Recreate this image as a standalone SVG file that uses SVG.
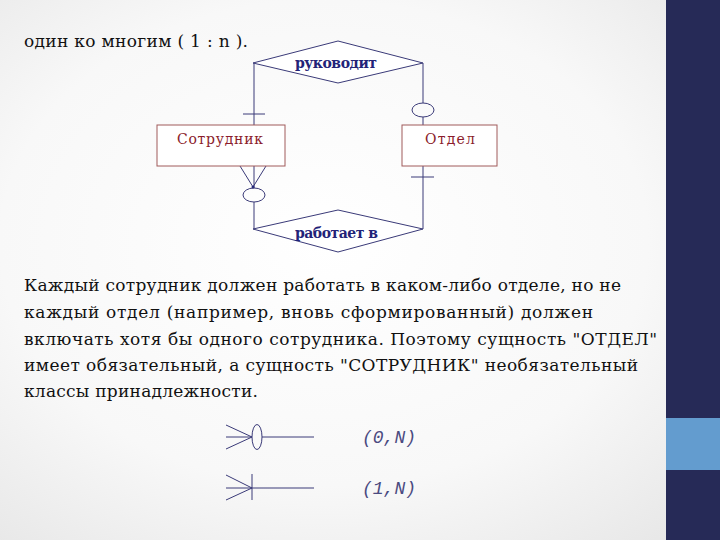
<svg xmlns="http://www.w3.org/2000/svg" width="720" height="540" viewBox="0 0 720 540">
<defs>
<radialGradient id="bg" cx="0.45" cy="0.45" r="0.75">
<stop offset="0" stop-color="#ffffff"/>
<stop offset="0.6" stop-color="#f8f8f8"/>
<stop offset="1" stop-color="#e6e6e6"/>
</radialGradient>
<style>
.body{font-family:'DejaVu Serif','Liberation Serif',serif;font-size:17px;fill:#111}
.rel{font-family:'DejaVu Serif','Liberation Serif',serif;font-size:14px;font-weight:bold;fill:#232378}
.ent{font-family:'DejaVu Serif','Liberation Serif',serif;font-size:14px;fill:#8b1c2c}
.box{fill:#ffffff;stroke:#a05a5a;stroke-width:1}
.ln{stroke:#3a3a78;stroke-width:1;fill:none}
.dia{stroke:#3a3a78;stroke-width:1;fill:#ffffff}
.leg{font-family:'Liberation Mono','DejaVu Sans Mono',monospace;font-size:18px;font-style:italic;fill:#4a4a80}
</style>
</defs>
<rect width="720" height="540" fill="url(#bg)"/>
<rect x="666" y="0" width="54" height="540" fill="#262a57"/>
<rect x="666" y="418" width="54" height="52" fill="#639ccf"/>

<text class="body" x="24" y="47" textLength="224">один ко многим ( 1 : n ).</text>

<g id="connectors">
<line class="ln" x1="254" y1="63" x2="254" y2="125"/>
<line class="ln" x1="243" y1="114" x2="265" y2="114"/>
<line class="ln" x1="423" y1="63" x2="423" y2="103"/>
<ellipse class="ln" cx="423" cy="110" rx="11" ry="7"/>
<line class="ln" x1="423" y1="117" x2="423" y2="125"/>
<line class="ln" x1="423" y1="166" x2="423" y2="229"/>
<line class="ln" x1="411" y1="177" x2="434" y2="177"/>
<line class="ln" x1="240" y1="166" x2="253" y2="187"/>
<line class="ln" x1="266" y1="166" x2="253" y2="187"/>
<line class="ln" x1="254" y1="166" x2="254" y2="188"/>
<circle cx="253" cy="187" r="1.5" fill="#23237a"/>
<ellipse class="ln" cx="254" cy="195" rx="11" ry="7"/>
<line class="ln" x1="254" y1="202" x2="254" y2="229"/>
</g>

<g id="rel-rukovodit">
<polygon class="dia" points="253,63 338,41 423,63 338,83"/>
<text class="rel" x="295" y="68" textLength="82">руководит</text>
</g>
<g id="rel-rabotaet">
<polygon class="dia" points="253,229 338,210 423,229 338,252"/>
<text class="rel" x="295" y="238" textLength="83">работает в</text>
</g>
<g id="ent-sotrudnik">
<rect class="box" x="157" y="125" width="128" height="41"/>
<text class="ent" x="177" y="144" textLength="86">Сотрудник</text>
</g>
<g id="ent-otdel">
<rect class="box" x="402" y="125" width="95" height="41"/>
<text class="ent" x="425" y="144" textLength="50">Отдел</text>
</g>

<text class="body" x="24" y="291" textLength="597">Каждый сотрудник должен работать в каком-либо отделе, но не</text>
<text class="body" x="24" y="318" textLength="569">каждый отдел (например, вновь сформированный) должен</text>
<text class="body" x="24" y="345" textLength="633">включать хотя бы одного сотрудника. Поэтому сущность "ОТДЕЛ"</text>
<text class="body" x="24" y="371" textLength="614">имеет обязательный, а сущность "СОТРУДНИК" необязательный</text>
<text class="body" x="24" y="397" textLength="234">классы принадлежности.</text>

<g id="legend-0n">
<line class="ln" x1="226" y1="437" x2="252" y2="437"/>
<line class="ln" x1="226" y1="425" x2="252" y2="437"/>
<line class="ln" x1="226" y1="449" x2="252" y2="437"/>
<ellipse class="ln" cx="257" cy="437" rx="5" ry="12.5"/>
<line class="ln" x1="262" y1="437" x2="314" y2="437"/>
<text class="leg" x="362" y="443">(0,N)</text>
</g>
<g id="legend-1n">
<line class="ln" x1="226" y1="488" x2="314" y2="488"/>
<line class="ln" x1="226" y1="475" x2="252" y2="488"/>
<line class="ln" x1="226" y1="500" x2="252" y2="488"/>
<line class="ln" x1="252" y1="474" x2="252" y2="500"/>
<text class="leg" x="362" y="494">(1,N)</text>
</g>
</svg>
